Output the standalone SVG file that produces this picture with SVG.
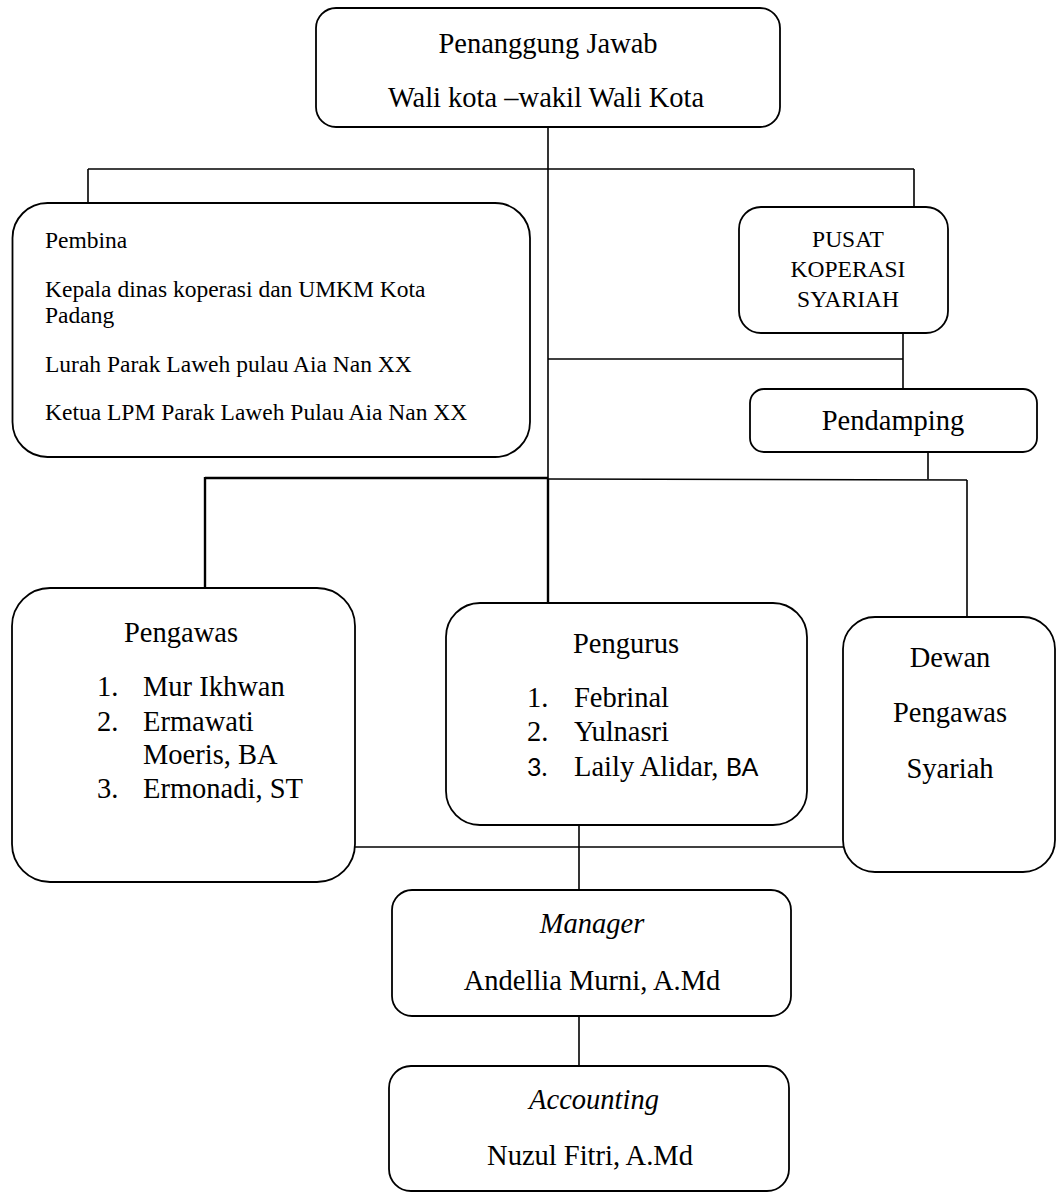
<svg xmlns="http://www.w3.org/2000/svg" width="1056" height="1193" viewBox="0 0 1056 1193">
<style>
.box{fill:#fff;stroke:#000;stroke-width:1.8}
.ln{stroke:#000;stroke-width:1.6;fill:none}
.lnb{stroke:#000;stroke-width:2.4;fill:none}
text{font-family:"Liberation Serif","Times New Roman",serif;font-size:28.5px;fill:#000}
.sm{font-size:23.5px}
.mid{text-anchor:middle}
.it{font-style:italic}
.sans{font-family:Lato,"Liberation Sans",sans-serif;font-size:25px}
</style>
<rect width="1056" height="1193" fill="#fff"/>
<g id="connectors">
<line class="ln" x1="548" y1="127" x2="548" y2="479"/>
<line class="ln" x1="88" y1="169" x2="914" y2="169"/>
<line class="ln" x1="88" y1="169" x2="88" y2="203"/>
<line class="ln" x1="914" y1="169" x2="914" y2="207"/>
<line class="ln" x1="548" y1="359" x2="903" y2="359"/>
<line class="ln" x1="903" y1="333" x2="903" y2="389"/>
<line class="ln" x1="928" y1="452" x2="928" y2="479"/>
<line class="lnb" x1="205" y1="478" x2="548" y2="478"/>
<line class="ln" x1="548" y1="479" x2="967" y2="480"/>
<line class="lnb" x1="205" y1="477" x2="205" y2="588"/>
<line class="lnb" x1="548" y1="479" x2="548" y2="603"/>
<line class="ln" x1="967" y1="480" x2="967" y2="617"/>
<line class="ln" x1="355" y1="847" x2="843" y2="847"/>
<line class="ln" x1="579" y1="825" x2="579" y2="890"/>
<line class="ln" x1="579" y1="1016" x2="579" y2="1066"/>
</g>
<g id="penanggung-jawab">
<rect class="box" x="316" y="8" width="464" height="119" rx="20"/>
<text class="mid" x="548" y="53">Penanggung Jawab</text>
<text class="mid" x="546" y="107">Wali kota –wakil Wali Kota</text>
</g>
<g id="pembina">
<rect class="box" x="12.5" y="203" width="517.5" height="254" rx="35"/>
<text class="sm" x="45" y="248">Pembina</text>
<text class="sm" x="45" y="297">Kepala dinas koperasi dan UMKM Kota</text>
<text class="sm" x="45" y="323">Padang</text>
<text class="sm" x="45" y="372">Lurah Parak Laweh pulau Aia Nan XX</text>
<text class="sm" x="45" y="420">Ketua LPM Parak Laweh Pulau Aia Nan XX</text>
</g>
<g id="pusat">
<rect class="box" x="739" y="207" width="209" height="126" rx="22"/>
<text class="sm mid" x="848" y="247">PUSAT</text>
<text class="sm mid" x="848" y="277">KOPERASI</text>
<text class="sm mid" x="848" y="307">SYARIAH</text>
</g>
<g id="pendamping">
<rect class="box" x="750" y="389" width="287" height="63" rx="14"/>
<text class="mid" x="893" y="430">Pendamping</text>
</g>
<g id="pengawas">
<rect class="box" x="12" y="588" width="343" height="294" rx="38"/>
<text x="124" y="642">Pengawas</text>
<text x="97" y="696">1.</text><text x="143" y="696">Mur Ikhwan</text>
<text x="97" y="731">2.</text><text x="143" y="731">Ermawati</text>
<text x="143" y="764">Moeris, BA</text>
<text x="97" y="798">3.</text><text x="143" y="798">Ermonadi, ST</text>
</g>
<g id="pengurus">
<rect class="box" x="446" y="603" width="361" height="222" rx="34"/>
<text x="573" y="653">Pengurus</text>
<text x="527" y="707">1.</text><text x="574" y="707">Febrinal</text>
<text x="527" y="741">2.</text><text x="574" y="741">Yulnasri</text>
<text class="sans" x="527" y="776">3.</text><text x="574" y="776">Laily Alidar, <tspan class="sans">BA</tspan></text>
</g>
<g id="dewan">
<rect class="box" x="843" y="617" width="212" height="255" rx="32"/>
<text class="mid" x="950" y="667">Dewan</text>
<text class="mid" x="950" y="722">Pengawas</text>
<text class="mid" x="950" y="778">Syariah</text>
</g>
<g id="manager">
<rect class="box" x="392" y="890" width="399" height="126" rx="20"/>
<text class="mid it" x="592" y="933">Manager</text>
<text class="mid" x="592" y="990">Andellia Murni, A.Md</text>
</g>
<g id="accounting">
<rect class="box" x="389" y="1066" width="400" height="125" rx="22"/>
<text class="mid it" x="594" y="1109">Accounting</text>
<text class="mid" x="590" y="1165">Nuzul Fitri, A.Md</text>
</g>
</svg>
